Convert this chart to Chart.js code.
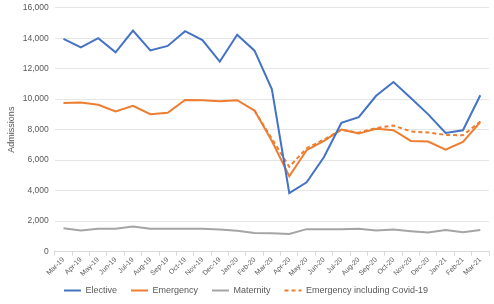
<!DOCTYPE html>
<html>
<head>
<meta charset="utf-8">
<script src="https://cdn.jsdelivr.net/npm/chart.js@4/dist/chart.umd.min.js"></script>
<style>
  html, body { margin: 0; padding: 0; background: #fff; }
  #wrap { width: 494px; height: 304px; }
</style>
</head>
<body>
<div id="wrap"><canvas id="chart"></canvas></div>
<script>
// months shown on the x axis
const months = ['Mar-19', 'Apr-19', 'May-19', 'Jun-19', 'Jul-19', 'Aug-19', 'Sep-19', 'Oct-19', 'Nov-19', 'Dec-19',
    'Jan-20', 'Feb-20', 'Mar-20', 'Apr-20', 'May-20', 'Jun-20', 'Jul-20', 'Aug-20', 'Sep-20', 'Oct-20',
    'Nov-20', 'Dec-20', 'Jan-21', 'Feb-21', 'Mar-21'];

const elective = [13950, 13400, 14000, 13070, 14500, 13200, 13490, 14460, 13880, 12460,
    14230, 13180, 10640, 3840, 4540, 6200, 8440, 8820, 10220, 11120,
    10080, 9000, 7780, 7960, 10260];

const emergency = [9740, 9780, 9630, 9190, 9560, 9010, 9100, 9950, 9930, 9870,
    9930, 9250, 7250, 4940, 6650, 7260, 8010, 7740, 8050, 7960,
    7260, 7220, 6690, 7190, 8490];

const maternity = [1530, 1380, 1490, 1490, 1640, 1500, 1500, 1490, 1500, 1440,
    1360, 1210, 1200, 1160, 1470, 1470, 1470, 1490, 1380, 1450,
    1340, 1250, 1420, 1270, 1420];

const emergencyCovid = [null, null, null, null, null, null, null, null, null, null,
    null, 9250, 7400, 5560, 6780, 7350, 8000, 7800, 8100, 8270,
    7880, 7810, 7650, 7630, 8530];

const yTicks = [0, 2000, 4000, 6000, 8000, 10000, 12000, 14000, 16000];

const textColor = '#595959';
const family = "'Liberation Sans', Arial, sans-serif";

function line(label, data, color, dash) {
    return {
        label: label,
        data: data,
        borderColor: color,
        backgroundColor: color,
        borderWidth: 2,
        borderDash: dash || [],
        pointRadius: 0,
        tension: 0,
        fill: false
    };
}

// legend padding is used both ways; keep the wide spacing between items
// but don't let it take vertical room from the plot
const legendSpot = {
    id: 'legendSpot',
    beforeUpdate(chart) {
        const legend = chart.legend;
        if (!legend || legend._patched) return;
        const fit = legend.fit;
        legend.fit = function () {
            fit.call(this);
            this.height = 26;
        };
        legend._patched = true;
    },
    afterLayout(chart) {
        chart.legend.top = 272;
    }
};

new Chart(document.getElementById('chart').getContext('2d'), {
    type: 'line',
    data: {
        labels: months,
        datasets: [
            line('Elective', elective, '#4472C4'),
            line('Emergency', emergency, '#ED7D31'),
            line('Maternity', maternity, '#A5A5A5'),
            line('Emergency including Covid-19', emergencyCovid, '#ED7D31', [4, 3])
        ]
    },
    plugins: [legendSpot],
    options: {
        responsive: true,
        maintainAspectRatio: false,
        animation: false,
        layout: { padding: { top: 0, right: 5, left: 3, bottom: 0 } },
        plugins: {
            legend: {
                position: 'bottom',
                labels: {
                    usePointStyle: true,
                    pointStyle: 'line',
                    pointStyleWidth: 17,
                    boxWidth: 17,
                    padding: 14,
                    color: textColor,
                    font: { family: family, size: 9 },
                    // point style labels drop the dataset dash, put it back
                    generateLabels: chart => {
                        const items = Chart.defaults.plugins.legend.labels.generateLabels(chart);
                        items.forEach(item => {
                            const ds = chart.data.datasets[item.datasetIndex];
                            item.lineDash = ds.borderDash;
                            item.lineWidth = 2;
                        });
                        return items;
                    }
                }
            },
            tooltip: { enabled: false }
        },
        scales: {
            x: {
                offset: true,
                grid: {
                    offset: true,
                    drawOnChartArea: false,
                    drawTicks: true,
                    tickLength: 4,
                    color: '#d9d9d9'
                },
                border: { color: '#d9d9d9' },
                ticks: {
                    color: textColor,
                    font: { family: family, size: 7 },
                    minRotation: 45,
                    maxRotation: 45,
                    autoSkip: false,
                    padding: 0
                }
            },
            y: {
                min: 0,
                max: 16000,
                afterBuildTicks: axis => { axis.ticks = yTicks.map(v => ({ value: v })); },
                grid: { color: '#e6e6e6', drawTicks: false },
                border: { display: false },
                ticks: {
                    color: textColor,
                    font: { family: family, size: 8.5, lineHeight: 0.4 },
                    padding: 6,
                    callback: v => v.toLocaleString('en-US')
                },
                title: {
                    display: true,
                    text: 'Admissions',
                    color: textColor,
                    font: { family: family, size: 9 },
                    padding: { top: 3, bottom: 0 }
                }
            }
        }
    }
});
</script>
</body>
</html>
